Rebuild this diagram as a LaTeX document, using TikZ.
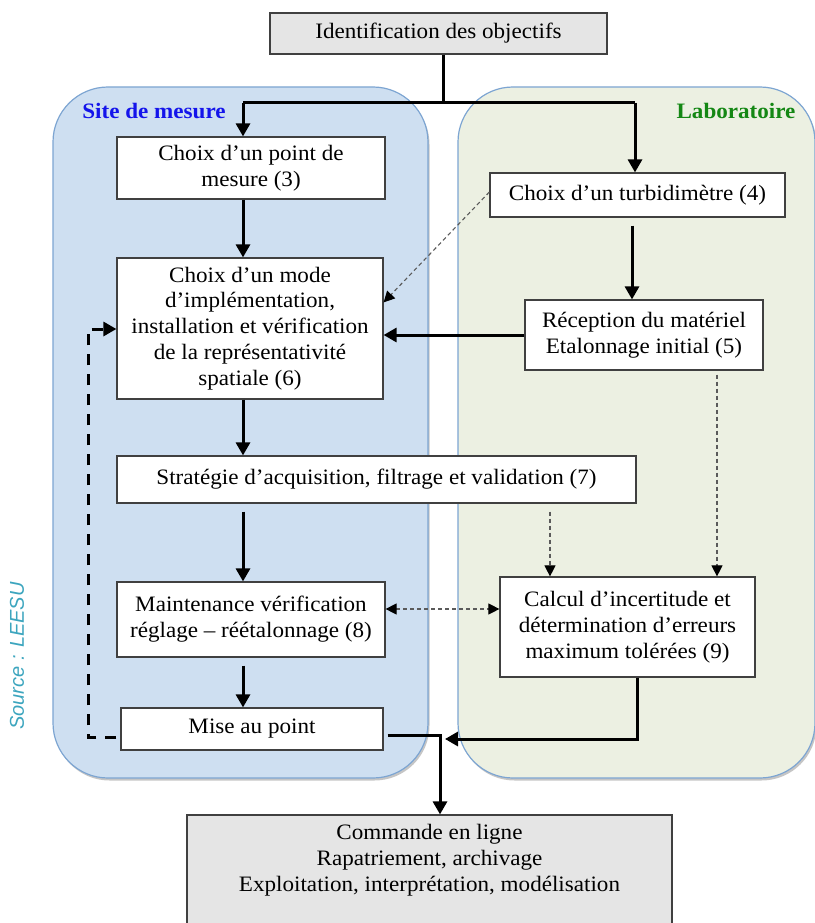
\documentclass[tikz,border=0pt]{standalone}
\usepackage{fontspec}
\setmainfont{Liberation Serif}[FakeStretch=1.05]
\newfontfamily\srcfont{Liberation Sans}
\usetikzlibrary{arrows.meta,shadows}
\definecolor{bluepanel}{RGB}{206,223,241}
\definecolor{greenpanel}{RGB}{236,240,226}
\definecolor{panelborder}{RGB}{125,165,210}
\definecolor{boxgray}{RGB}{229,229,229}
\definecolor{sitetext}{RGB}{20,20,235}
\definecolor{labtext}{RGB}{20,135,20}
\definecolor{srccolor}{RGB}{60,165,190}
\definecolor{dashgray}{RGB}{90,90,90}
\tikzset{
  box/.style={draw=black!75, line width=1.2pt, fill=white, align=center, inner sep=2pt,
    font=\fontsize{22}{25.8}\selectfont},
  graybox/.style={box, fill=boxgray},
  panel/.style={draw=panelborder, line width=1.2pt, rounded corners=55pt,
    drop shadow={shadow xshift=1.5pt, shadow yshift=-2.5pt, fill=black!45, opacity=0.5}},
  mainarrow/.style={line width=3pt, -{Triangle[width=14pt,length=13pt]}},
  mainline/.style={line width=3pt},
  thinarrow/.style={draw=dashgray, line width=1.1pt, dash pattern=on 4pt off 3pt,
    -{Triangle[width=11pt,length=11pt,fill=black,color=black]}},
  thinboth/.style={draw=dashgray, line width=1.1pt, dash pattern=on 4pt off 3pt,
    {Triangle[width=11pt,length=11pt,fill=black,color=black]}-{Triangle[width=11pt,length=11pt,fill=black,color=black]}},
  loop/.style={line width=3pt, dash pattern=on 11pt off 9pt, -{Triangle[width=14pt,length=13pt]}},
}
\begin{document}
\begin{tikzpicture}[x=1pt,y=-1pt]
\useasboundingbox (0,0) rectangle (814,923);
% panels
\fill[bluepanel, panel] (53,87) rectangle (428,778);
\fill[greenpanel, panel] (458,87) rectangle (815,778);
\node[font=\bfseries\fontsize{22}{25}\selectfont, text=sitetext] (site) at (154,111) {Site de mesure};
\node[font=\srcfont\itshape\fontsize{20}{22}\selectfont, text=srccolor, rotate=90] (src) at (17,656) {Source : LEESU};
\node[font=\bfseries\fontsize{22}{25}\selectfont, text=labtext] (lab) at (736,111) {Laboratoire};
% boxes
\node[graybox, minimum width=337pt, minimum height=41pt] (obj) at (438.5,33.5) {Identification des objectifs};
\node[box, minimum width=268pt, minimum height=62pt] (b3) at (251,168) {Choix d’un point de\\mesure (3)};
\node[box, minimum width=295pt, minimum height=44pt] (b4) at (637.5,195) {Choix d’un turbidimètre (4)};
\node[box, minimum width=266pt, minimum height=141pt] (b6) at (250,328.5) {Choix d’un mode\\d’implémentation,\\installation et vérification\\de la représentativité\\spatiale (6)};
\node[box, minimum width=238pt, minimum height=70pt] (b5) at (644,335) {Réception du matériel\\Etalonnage initial (5)};
\node[box, minimum width=519pt, minimum height=47pt] (b7) at (376.5,479.5) {Stratégie d’acquisition, filtrage et validation (7)};
\node[box, minimum width=268pt, minimum height=75pt] (b8) at (251,619.5) {Maintenance vérification\\réglage – réétalonnage (8)};
\node[box, minimum width=255pt, minimum height=100pt] (b9) at (627.5,627) {Calcul d’incertitude et\\détermination d’erreurs\\maximum tolérées (9)};
\node[box, minimum width=262pt, minimum height=42pt] (mise) at (252,729) {Mise au point};
\node[graybox, minimum width=485pt, minimum height=120pt] (fin) at (429.5,875) {};
\node[font=\fontsize{22}{26}\selectfont, align=center] (fintext) at (429.5,860) {Commande en ligne\\Rapatriement, archivage\\Exploitation, interprétation, modélisation};
% coordinates
\coordinate (split) at (443,103);
\coordinate (sl) at (243,103);
\coordinate (sr) at (635,103);
\coordinate (loopa) at (88,737);
\coordinate (loopb) at (88,329);
\coordinate (turn1) at (440,735);
\coordinate (turn2) at (637,739);
% main connectors
\draw[mainline] (obj.south -| split) -- (split);
\draw[mainline] (sl) -- (sr);
\draw[mainarrow] (sl) -- (sl |- b3.north);
\draw[mainarrow] (sr) -- (sr |- b4.north);
\draw[mainarrow] (b3.south -| sl) -- (b6.north -| sl);
\draw[mainarrow] ([yshift=-8pt]b4.south -| 632,0) -- (b5.north -| 632,0);
\draw[mainarrow] (b5.west |- 0,335) -- (b6.east |- 0,335);
\draw[mainarrow] (b6.south -| sl) -- (b7.north -| sl);
\draw[mainarrow] ([yshift=-8pt]b7.south -| sl) -- (b8.north -| sl);
\draw[mainarrow] ([yshift=-8pt]b8.south -| sl) -- (mise.north -| sl);
\draw[loop] ([xshift=-4pt]mise.west |- loopa) -- (loopa) -- (loopb) -- (b6.west |- loopb);
\draw[mainarrow] ([xshift=4pt]mise.east |- turn1) -- (turn1) -- (turn1 |- fin.north);
\draw[mainarrow] (b9.south -| turn2) -- (turn2) -- (445,739);
% dashed connectors
\draw[thinarrow] ([yshift=3pt]b4.west) -- ([yshift=-45pt]b6.north east);
\draw[thinarrow] ([yshift=-4pt]b5.south -| 717,0) -- (b9.north -| 717,0);
\draw[thinarrow] ([yshift=-8pt]b7.south -| 550,0) -- (b9.north -| 550,0);
\draw[thinboth] (b8.east |- 0,609) -- (b9.west |- 0,609);
\end{tikzpicture}
\end{document}
